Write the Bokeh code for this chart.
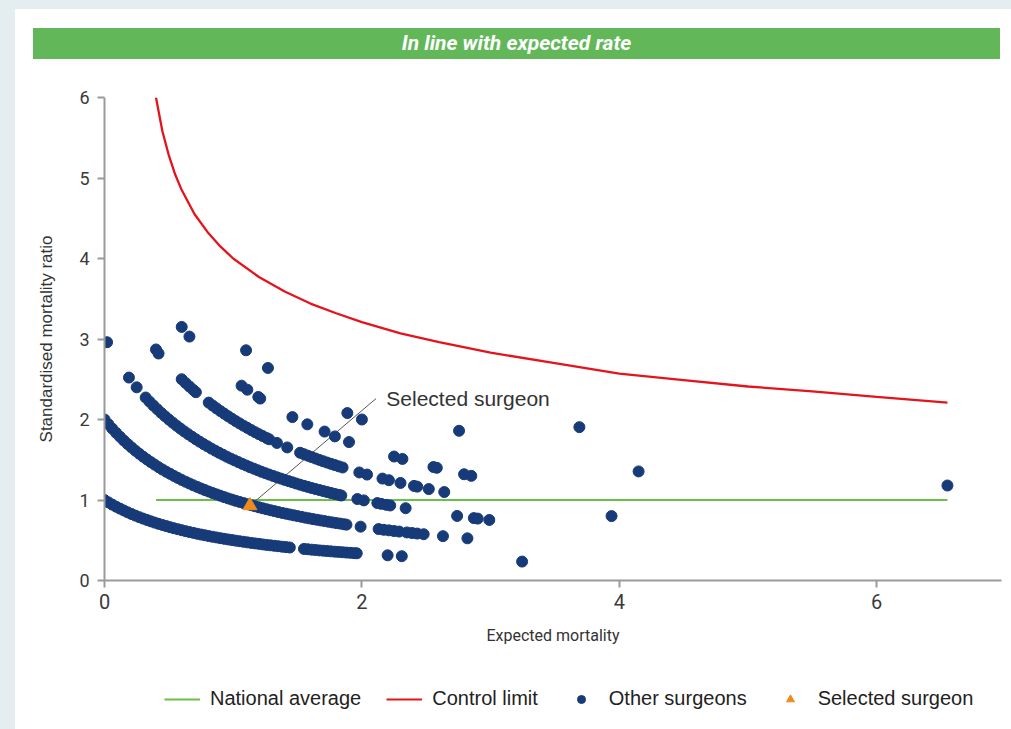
import math

from bokeh.plotting import figure
from bokeh.models import ColumnDataSource, Legend, LegendItem, Label, Range1d, FixedTicker, Div
from bokeh.layouts import column
from bokeh.embed import file_html
from bokeh.resources import INLINE

# ---- data -------------------------------------------------------------
banner_text = "In line with expected rate"
x_label = "Expected mortality"
y_label = "Standardised mortality ratio"
x_ticks = [0, 2, 4, 6]
y_ticks = [0, 1, 2, 3, 4, 5, 6]

# national average (SMR = 1)
natl_e = [0.40, 6.55]
natl_smr = [1.0, 1.0]

# upper control limit
limit_e = [0.40, 0.45, 0.50, 0.55, 0.60, 0.70, 0.80, 0.90, 1.00, 1.20, 1.40, 1.60,
           1.80, 2.00, 2.30, 2.60, 3.00, 3.50, 4.00, 4.50, 5.00, 5.50, 6.00, 6.55]
limit_smr = [6.00, 5.58, 5.28, 5.04, 4.85, 4.55, 4.33, 4.15, 4.00, 3.77, 3.59, 3.44,
             3.32, 3.21, 3.07, 2.96, 2.83, 2.70, 2.57, 2.49, 2.41, 2.35, 2.28, 2.21]

# surgeons with one death
one_e = [0.00, 0.03, 0.06, 0.09, 0.12, 0.15, 0.18, 0.21, 0.24, 0.27, 0.30, 0.33, 0.36,
         0.39, 0.42, 0.45, 0.48, 0.51, 0.54, 0.57, 0.60, 0.63, 0.66, 0.69, 0.72, 0.75,
         0.78, 0.81, 0.84, 0.87, 0.90, 0.93, 0.96, 0.99, 1.02, 1.05, 1.08, 1.11, 1.14,
         1.17, 1.20, 1.23, 1.26, 1.29, 1.32, 1.35, 1.38, 1.41, 1.44,
         1.55, 1.58, 1.61, 1.64, 1.67, 1.70, 1.73, 1.76, 1.79, 1.82, 1.85, 1.88, 1.91,
         1.94, 1.96, 2.20, 2.31, 3.245]
one_smr = [1.000, 0.971, 0.943, 0.917, 0.893, 0.870, 0.847, 0.826, 0.806, 0.787, 0.769,
           0.752, 0.735, 0.719, 0.704, 0.690, 0.676, 0.662, 0.649, 0.637, 0.625, 0.613,
           0.602, 0.592, 0.581, 0.571, 0.562, 0.552, 0.543, 0.535, 0.526, 0.518, 0.510,
           0.503, 0.495, 0.488, 0.481, 0.474, 0.467, 0.461, 0.455, 0.448, 0.442, 0.437,
           0.431, 0.426, 0.420, 0.415, 0.410,
           0.392, 0.388, 0.383, 0.379, 0.374, 0.370, 0.366, 0.362, 0.358, 0.355, 0.351,
           0.347, 0.344, 0.340, 0.338, 0.313, 0.302, 0.235]

# surgeons with two deaths
two_e = [0.00, 0.03, 0.06, 0.09, 0.12, 0.15, 0.18, 0.21, 0.24, 0.27, 0.30, 0.33, 0.36,
         0.39, 0.42, 0.45, 0.48, 0.51, 0.54, 0.57, 0.60, 0.63, 0.66, 0.69, 0.72, 0.75,
         0.78, 0.81, 0.84, 0.87, 0.90, 0.93, 0.96, 0.99, 1.02, 1.05, 1.08, 1.11, 1.14,
         1.17, 1.20, 1.23, 1.26, 1.29, 1.32, 1.35, 1.38, 1.41, 1.44, 1.47, 1.50, 1.53,
         1.56, 1.59, 1.62, 1.65, 1.68, 1.71, 1.74, 1.77, 1.80, 1.83, 1.86, 1.88,
         1.99, 2.13, 2.17, 2.21, 2.25, 2.29, 2.35, 2.39, 2.43, 2.48, 2.63, 2.82]
two_smr = [2.000, 1.942, 1.887, 1.835, 1.786, 1.739, 1.695, 1.653, 1.613, 1.575, 1.538,
           1.504, 1.471, 1.439, 1.408, 1.379, 1.351, 1.325, 1.299, 1.274, 1.250, 1.227,
           1.205, 1.183, 1.163, 1.143, 1.124, 1.105, 1.087, 1.070, 1.053, 1.036, 1.020,
           1.005, 0.990, 0.976, 0.962, 0.948, 0.935, 0.922, 0.909, 0.897, 0.885, 0.873,
           0.862, 0.851, 0.840, 0.830, 0.820, 0.810, 0.800, 0.791, 0.781, 0.772, 0.763,
           0.755, 0.746, 0.738, 0.730, 0.722, 0.714, 0.707, 0.699, 0.694,
           0.669, 0.639, 0.630, 0.623, 0.615, 0.608, 0.597, 0.590, 0.583, 0.575, 0.551,
           0.524]

# surgeons with three deaths
three_e = [0.19, 0.25, 0.32, 0.35, 0.38, 0.41, 0.44, 0.47, 0.50, 0.53, 0.56, 0.59, 0.62,
           0.65, 0.68, 0.71, 0.74, 0.77, 0.80, 0.83, 0.86, 0.89, 0.92, 0.95, 0.98, 1.01,
           1.04, 1.07, 1.10, 1.13, 1.16, 1.19, 1.22, 1.25, 1.28, 1.31, 1.34, 1.37, 1.40,
           1.43, 1.46, 1.49, 1.52, 1.55, 1.58, 1.61, 1.64, 1.67, 1.70, 1.73, 1.76, 1.79,
           1.82, 1.84, 1.965, 2.015, 2.12, 2.15, 2.19, 2.22, 2.34, 2.74, 2.87, 2.90, 2.99]
three_smr = [2.521, 2.400, 2.273, 2.222, 2.174, 2.128, 2.083, 2.041, 2.000, 1.961, 1.923,
             1.887, 1.852, 1.818, 1.786, 1.754, 1.724, 1.695, 1.667, 1.639, 1.613, 1.587,
             1.563, 1.538, 1.515, 1.493, 1.471, 1.449, 1.429, 1.408, 1.389, 1.370, 1.351,
             1.333, 1.316, 1.299, 1.282, 1.266, 1.250, 1.235, 1.220, 1.205, 1.190, 1.176,
             1.163, 1.149, 1.136, 1.124, 1.111, 1.099, 1.087, 1.075, 1.064, 1.056,
             1.012, 0.995, 0.962, 0.952, 0.940, 0.932, 0.898, 0.802, 0.775, 0.769, 0.752]

# surgeons with four deaths
four_e = [0.60, 0.63, 0.66, 0.69, 0.71, 0.81, 0.84, 0.87, 0.90, 0.93, 0.96, 0.99, 1.02,
          1.05, 1.08, 1.11, 1.14, 1.17, 1.20, 1.23, 1.26, 1.28, 1.34, 1.42, 1.52, 1.55,
          1.58, 1.61, 1.64, 1.67, 1.70, 1.73, 1.76, 1.79, 1.82, 1.85, 1.98, 2.04, 2.16,
          2.21, 2.30, 2.405, 2.43, 2.52, 2.64]
four_smr = [2.500, 2.454, 2.410, 2.367, 2.339, 2.210, 2.174, 2.139, 2.105, 2.073, 2.041,
            2.010, 1.980, 1.951, 1.923, 1.896, 1.869, 1.843, 1.818, 1.794, 1.770, 1.754,
            1.709, 1.653, 1.587, 1.569, 1.550, 1.533, 1.515, 1.498, 1.481, 1.465, 1.449,
            1.434, 1.418, 1.404, 1.342, 1.316, 1.266, 1.246, 1.212, 1.175, 1.166, 1.136,
            1.099]

# surgeons with five or more deaths
more_e = [0.02, 0.40, 0.42, 0.60, 0.66, 1.065, 1.10, 1.11, 1.195, 1.21, 1.27, 1.46, 1.576,
          1.71, 1.79, 1.887, 1.90, 2.00, 2.25, 2.315, 2.556, 2.582, 2.755, 2.794, 2.85,
          3.69, 3.94, 4.15, 6.55]
more_smr = [2.96, 2.87, 2.82, 3.15, 3.03, 2.42, 2.86, 2.37, 2.28, 2.26, 2.64, 2.03, 1.94,
            1.85, 1.79, 2.08, 1.72, 2.00, 1.54, 1.51, 1.41, 1.40, 1.86, 1.32, 1.30,
            1.905, 0.80, 1.355, 1.18]

# the highlighted surgeon and its call-out
selected_e = [1.13]
selected_smr = [0.93]
callout_e = [1.13, 2.11]
callout_smr = [0.93, 2.26]
callout_text = "Selected surgeon"

legend_labels = ["National average", "Control limit", "Other surgeons", "Selected surgeon"]

# ---- styling ----------------------------------------------------------
NARROW = "Roboto"
REGULAR = "Liberation Sans"
PAGE_BG = "#e4eef1"
BANNER_GREEN = "#62b859"
DOT = "#173a78"
RED = "#e3141c"
GREEN = "#6abf4b"
ORANGE = "#ef8a1d"
AXIS_GREY = "#9a9a9a"

# ---- banner -------------------------------------------------------------
banner = Div(text=banner_text, width=967, height=31, margin=(19, 0, 0, 18),
             styles={"background-color": BANNER_GREEN, "color": "white",
                     "font-family": NARROW, "font-style": "italic",
                     "font-weight": "bold", "font-size": "21px",
                     "text-align": "center", "line-height": "31px"})

# ---- main chart ---------------------------------------------------------
p = figure(width=996, height=611, x_range=Range1d(0, 6.97), y_range=Range1d(0, 6),
           toolbar_location=None, output_backend="svg",
           min_border_left=89, min_border_right=10, min_border_top=38,
           min_border_bottom=90, outline_line_color=None,
           background_fill_color="white", border_fill_color="white")
p.grid.visible = False

for ax in (p.xaxis[0], p.yaxis[0]):
    ax.axis_line_color = AXIS_GREY
    ax.axis_line_width = 2
    ax.major_tick_line_color = AXIS_GREY
    ax.major_tick_line_width = 2
    ax.major_tick_out = 7
    ax.major_tick_in = 0
    ax.minor_tick_line_color = None
    ax.major_label_text_color = "#3a3a3a"
    ax.major_label_text_font = NARROW
    ax.axis_label_text_font_style = "normal"
    ax.axis_label_text_color = "#333333"

p.xaxis.ticker = FixedTicker(ticks=x_ticks)
p.yaxis.ticker = FixedTicker(ticks=y_ticks)
p.xaxis.major_label_text_font_size = "20px"
p.yaxis.major_label_text_font_size = "18px"
p.xaxis.major_label_standoff = 6
p.yaxis.major_label_standoff = 8
p.xaxis.axis_label = x_label
p.yaxis.axis_label = y_label
p.xaxis.axis_label_standoff = 14
p.yaxis.axis_label_standoff = 20
p.xaxis.axis_label_text_font = NARROW
p.xaxis.axis_label_text_font_size = "16px"
p.yaxis.axis_label_text_font = REGULAR
p.yaxis.axis_label_text_font_size = "17px"

p.line(natl_e, natl_smr, line_color=GREEN, line_width=2)
p.line(limit_e, limit_smr, line_color=RED, line_width=2.3)
p.line(callout_e, callout_smr, line_color="#555555", line_width=1)

others_e = one_e + two_e + three_e + four_e + more_e
others_smr = one_smr + two_smr + three_smr + four_smr + more_smr
p.scatter(x="e", y="smr", source=ColumnDataSource(dict(e=others_e, smr=others_smr)),
          marker="circle", size=11, fill_color=DOT, line_color=DOT)
p.scatter(selected_e, selected_smr, marker="triangle", size=14,
          fill_color=ORANGE, line_color=ORANGE)

p.add_layout(Label(x=2.19, y=2.26, text=callout_text, text_baseline="middle",
                   text_font=REGULAR, text_font_size="21px", text_color="#333333"))

# ---- legend strip (key glyphs carry no data, only their styling) --------
key = figure(width=996, height=59, x_range=Range1d(0, 1), y_range=Range1d(0, 1),
             x_axis_type=None, y_axis_type=None, toolbar_location=None,
             output_backend="svg", min_border_left=89, min_border_right=10,
             min_border_top=0, min_border_bottom=0, outline_line_color=None,
             background_fill_color="white", border_fill_color="white")
key.grid.visible = False
nan = [math.nan]
k_natl = key.line(nan, nan, line_color=GREEN, line_width=2)
k_limit = key.line(nan, nan, line_color=RED, line_width=2)
k_other = key.scatter(nan, nan, marker="circle", size=8, fill_color=DOT, line_color=DOT)
k_sel = key.scatter(nan, nan, marker="triangle", size=11, fill_color=ORANGE, line_color=ORANGE)

legend = Legend(items=[
    LegendItem(label=legend_labels[0], renderers=[k_natl]),
    LegendItem(label=legend_labels[1], renderers=[k_limit]),
    LegendItem(label=legend_labels[2], renderers=[k_other]),
    LegendItem(label=legend_labels[3], renderers=[k_sel]),
], orientation="horizontal", location=(60, 19), border_line_color=None,
    background_fill_alpha=0, label_text_font=REGULAR, label_text_font_size="20px",
    label_text_color="#222222", glyph_width=36, label_standoff=10, spacing=25,
    margin=0, padding=6)
key.add_layout(legend)

panel = column(banner, p, key, styles={"background-color": "white"})
page = column(panel, styles={"background-color": PAGE_BG,
                             "padding-left": "15px", "padding-top": "9px"})

open("out.html", "w").write(file_html(page, INLINE))
